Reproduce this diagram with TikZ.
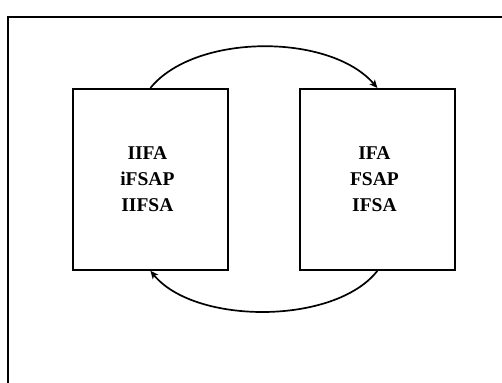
\documentclass[tikz,border=0pt]{standalone}
\usepackage{fontspec}
\setmainfont{Liberation Serif}
\usetikzlibrary{arrows.meta}
\begin{document}
\begin{tikzpicture}[x=1pt,y=-1pt,
  setbox/.style={draw,line width=1.8pt,minimum width=155pt,minimum height=181pt,
    inner sep=0pt,anchor=north west},
  setlabel/.style={font=\fontsize{19.5}{26}\selectfont\bfseries,align=center,inner sep=0pt},
  flow/.style={line width=1.7pt,-{Stealth[length=8pt,width=7pt,inset=2pt]}}]
  \useasboundingbox (0,0) rectangle (502,382);
  % outer frame
  \draw[line width=2.2pt] (503,17) -- (8,17) -- (8,383);
  % the two boxes
  \node[setbox] (L) at (72,88) {};
  \node[setbox] (R) at (299,88) {};
  \node[setlabel] (Lt) at ([xshift=-3pt]L.center) {IIFA\\iFSAP\\IIFSA};
  \node[setlabel] (Rt) at ([xshift=-3pt]R.center) {IFA\\FSAP\\IFSA};
  % connecting arcs
  \draw[flow] (L.north) .. controls (195,33) and (330,33) .. (R.north);
  \draw[flow] (R.south) .. controls (335,325) and (195,325) .. (L.south);
\end{tikzpicture}
\end{document}
